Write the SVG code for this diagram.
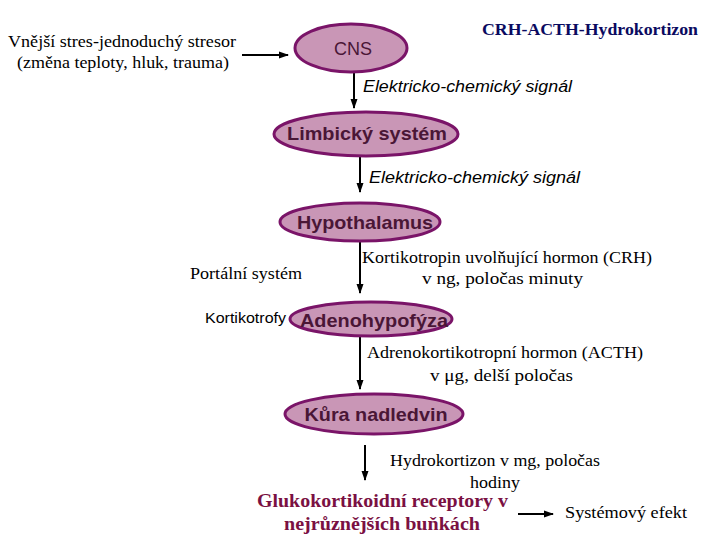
<svg xmlns="http://www.w3.org/2000/svg" width="720" height="540" viewBox="0 0 720 540">
<defs>
<marker id="ah" markerWidth="10" markerHeight="10" refX="9" refY="5" orient="auto" markerUnits="userSpaceOnUse">
<path d="M0,1.5 L10,5 L0,8.5 Z" fill="#000"/>
</marker>
</defs>
<style>
.el{fill:#C996B6;stroke:#7A1468;stroke-width:3}
.nl{font-family:"Liberation Sans",Arial,sans-serif;font-weight:bold;font-size:19px;fill:#4A1636;text-anchor:middle}
.ser{font-family:"Liberation Serif","Times New Roman",serif;font-size:17px;fill:#000}
.it{font-family:"Liberation Sans",Arial,sans-serif;font-style:italic;font-size:16px;fill:#000}
.cn{stroke:#000;stroke-width:2;fill:none;marker-end:url(#ah)}
</style>
<rect width="720" height="540" fill="#fff"/>
<g id="connectors">
<line class="cn" x1="242" y1="55" x2="288" y2="55"/>
<line class="cn" x1="354" y1="73" x2="354" y2="108"/>
<line class="cn" x1="360" y1="157" x2="360" y2="192"/>
<line class="cn" x1="360" y1="241" x2="360" y2="293"/>
<line class="cn" x1="360" y1="334" x2="360" y2="389"/>
<line class="cn" x1="365" y1="445" x2="365" y2="480"/>
<line class="cn" x1="518" y1="514" x2="553" y2="514"/>
</g>
<g id="title"><text x="482" y="35" textLength="216" lengthAdjust="spacingAndGlyphs" font-family="Liberation Serif, Times New Roman, serif" font-weight="bold" font-size="17" fill="#0A0A60">CRH-ACTH-Hydrokortizon</text></g>
<g id="stressor">
<text class="ser" x="8" y="47" textLength="228" lengthAdjust="spacingAndGlyphs">Vnější stres-jednoduchý stresor</text>
<text class="ser" x="17" y="68" textLength="212" lengthAdjust="spacingAndGlyphs">(změna teploty, hluk, trauma)</text>
</g>
<g id="cns">
<ellipse class="el" cx="351" cy="48" rx="56" ry="24"/>
<text class="nl" x="353" y="55" style="font-weight:normal;font-size:18px">CNS</text>
</g>
<text class="it" x="363" y="92" textLength="209" lengthAdjust="spacingAndGlyphs">Elektricko-chemický signál</text>
<g id="limbic">
<ellipse class="el" cx="366" cy="134" rx="92" ry="22"/>
<text class="nl" x="367" y="140" textLength="160" lengthAdjust="spacingAndGlyphs">Limbický systém</text>
</g>
<text class="it" x="369" y="183" textLength="211" lengthAdjust="spacingAndGlyphs">Elektricko-chemický signál</text>
<g id="hypothalamus">
<ellipse class="el" cx="360" cy="222" rx="80" ry="19"/>
<text class="nl" x="365" y="229" textLength="136" lengthAdjust="spacingAndGlyphs">Hypothalamus</text>
</g>
<g id="crh">
<text class="ser" x="362" y="263" textLength="290" lengthAdjust="spacingAndGlyphs">Kortikotropin uvolňující hormon (CRH)</text>
<text class="ser" x="422" y="284" textLength="161" lengthAdjust="spacingAndGlyphs">v ng, poločas minuty</text>
</g>
<text class="ser" x="190" y="279" textLength="112" lengthAdjust="spacingAndGlyphs">Portální systém</text>
<text x="205" y="323" textLength="81" lengthAdjust="spacingAndGlyphs" font-family="Liberation Sans, Arial, sans-serif" font-size="15" fill="#000">Kortikotrofy</text>
<g id="adenohypofyza">
<ellipse class="el" cx="371" cy="319" rx="81" ry="17"/>
<text class="nl" x="374" y="327" textLength="148" lengthAdjust="spacingAndGlyphs">Adenohypofýza</text>
</g>
<g id="acth">
<text class="ser" x="367" y="358" textLength="276" lengthAdjust="spacingAndGlyphs">Adrenokortikotropní hormon (ACTH)</text>
<text class="ser" x="430" y="381" textLength="143" lengthAdjust="spacingAndGlyphs">v μg, delší poločas</text>
</g>
<g id="kura">
<ellipse class="el" cx="374" cy="414" rx="89" ry="20"/>
<text class="nl" x="376" y="421" textLength="143" lengthAdjust="spacingAndGlyphs">Kůra nadledvin</text>
</g>
<g id="hydrokortizon">
<text class="ser" x="390" y="466" textLength="210" lengthAdjust="spacingAndGlyphs">Hydrokortizon v mg, poločas</text>
<text class="ser" x="470" y="488" textLength="50" lengthAdjust="spacingAndGlyphs">hodiny</text>
</g>
<g id="receptory">
<text x="257" y="507" textLength="251" lengthAdjust="spacingAndGlyphs" font-family="Liberation Serif, Times New Roman, serif" font-weight="bold" font-size="18" fill="#7A1042">Glukokortikoidní receptory v</text>
<text x="284" y="530" textLength="196" lengthAdjust="spacingAndGlyphs" font-family="Liberation Serif, Times New Roman, serif" font-weight="bold" font-size="18" fill="#7A1042">nejrůznějších buňkách</text>
</g>
<g id="efekt"><text class="ser" x="565" y="518" textLength="122" lengthAdjust="spacingAndGlyphs">Systémový efekt</text></g>
</svg>
